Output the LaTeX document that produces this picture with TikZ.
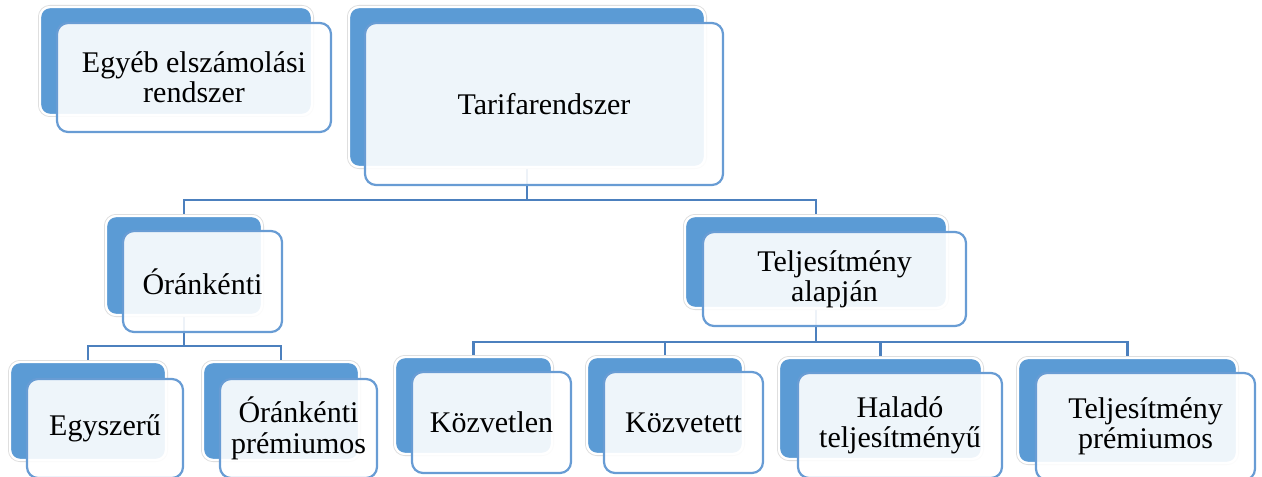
\documentclass[tikz,border=0pt]{standalone}
\usepackage{fontspec}
\setmainfont{Liberation Serif}
\usepackage{tikz}
\usetikzlibrary{backgrounds}

\definecolor{boxblue}{RGB}{91,155,213}
\definecolor{edgeblue}{RGB}{104,156,212}
\definecolor{linkblue}{RGB}{76,128,190}

\tikzset{
    wh/.style n args={2}{minimum width=#1*0.5pt, minimum height=#2*0.5pt}
}

\begin{document}
\begin{tikzpicture} [
    x=0.5pt, y=-0.5pt,
    back/.style={rectangle, rounded corners=5pt, inner sep=0pt, fill=boxblue, draw=white, line width=1.2pt, preaction={draw=black!14, line width=2pt}},
    front/.style={rectangle, rounded corners=5.5pt, inner sep=0pt, draw=edgeblue, line width=1.1pt, fill=white, fill opacity=0.9, text opacity=1, align=center, font=\fontsize{15}{15.2}\selectfont},
    conn/.style={draw=linkblue, line width=1.4pt}
]
    \useasboundingbox (0,0) rectangle (1262,476);

    % Nodes
    \node[back, wh={272}{108}] (egyeb_back) at (176,61) {};
    \node[front, wh={274}{109}] (egyeb) at (194,77.5) {Egyéb elszámolási\\rendszer};

    \node[back, wh={356}{160}] (tarifa_back) at (527,87) {};
    \node[front, wh={358}{162}] (tarifa) at (544,104) {Tarifarendszer};

    \node[back, wh={156}{99}] (oran_back) at (184,265.5) {};
    \node[front, wh={159}{101}] (oran) at (202.5,281.5) {Óránkénti};

    \node[back, wh={262}{92}] (telj_back) at (816,262) {};
    \node[front, wh={263}{94}] (telj) at (834.5,279) {Teljesítmény\\alapján};

    \node[back, wh={156}{98}] (egyszeru_back) at (88,411) {};
    \node[front, wh={156}{99}] (egyszeru) at (105,428.5) {Egyszerű};

    \node[back, wh={156}{98}] (oran_prem_back) at (281,411) {};
    \node[front, wh={157}{99}] (oran_prem) at (298.5,428.5) {Óránkénti\\prémiumos};

    \node[back, wh={157}{97}] (kozvetlen_back) at (473.5,405.5) {};
    \node[front, wh={159}{101}] (kozvetlen) at (491.5,422.5) {Közvetlen};

    \node[back, wh={156}{97}] (kozvetett_back) at (665,405.5) {};
    \node[front, wh={159}{101}] (kozvetett) at (683.5,422.5) {Közvetett};

    \node[back, wh={203}{101}] (halado_back) at (880.5,408.5) {};
    \node[front, wh={204}{105}] (halado) at (900,425.5) {Haladó\\teljesítményű};

    \node[back, wh={219}{105}] (telj_prem_back) at (1127.5,410.5) {};
    \node[front, wh={219}{107}] (telj_prem) at (1145.5,426.5) {Teljesítmény\\prémiumos};

    % Connectors
    \coordinate (bus_top) at (0,200);
    \coordinate (bus_oran) at (0,346);
    \coordinate (bus_telj) at (0,342);
    \begin{scope}[on background layer]
        \path [conn] (tarifa_back.south) -- (tarifa_back.south |- bus_top) -| (oran_back.north);
        \path [conn] (tarifa_back.south |- bus_top) -| (telj_back.north);

        \path [conn] (oran_back.south) -- (oran_back.south |- bus_oran) -| (egyszeru_back.north);
        \path [conn] (oran_back.south |- bus_oran) -| (oran_prem_back.north);

        \path [conn] (telj_back.south) -- (telj_back.south |- bus_telj) -| (kozvetlen_back.north);
        \path [conn] (telj_back.south |- bus_telj) -| (kozvetett_back.north);
        \path [conn] (telj_back.south |- bus_telj) -| (halado_back.north);
        \path [conn] (telj_back.south |- bus_telj) -| (telj_prem_back.north);
    \end{scope}

\end{tikzpicture}
\end{document}
